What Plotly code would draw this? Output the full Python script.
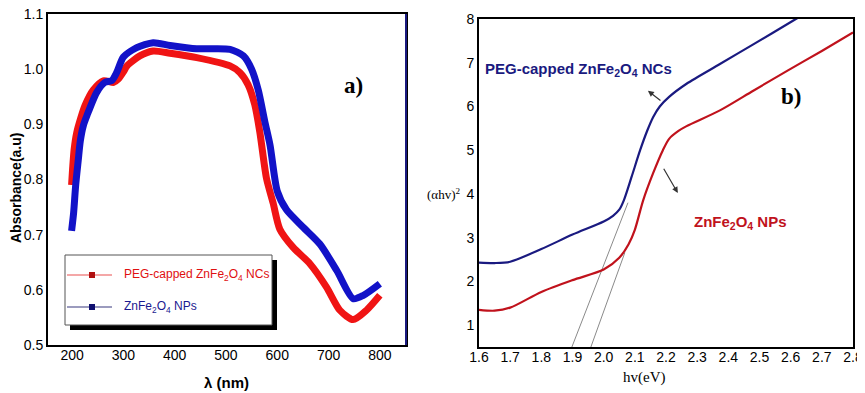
import plotly.graph_objects as go

W, H = 865, 393
OFF = 8  # the page body margin shifts the figure by this many pixels

# ---------- Panel a) data : absorbance vs wavelength ----------
wl_red = [199, 201, 204, 209, 217, 225, 241, 261, 281, 290, 300, 307, 332, 358, 391, 443, 508, 527,
          543, 556, 566, 579, 592, 605, 631, 664, 696, 722, 748, 774, 800]
abs_red = [0.79, 0.82, 0.855, 0.885, 0.912, 0.934, 0.962, 0.979, 0.976, 0.982, 0.995, 1.006, 1.024,
           1.033, 1.029, 1.021, 1.006, 0.994, 0.972, 0.936, 0.886, 0.802, 0.757, 0.710, 0.677,
           0.647, 0.605, 0.563, 0.546, 0.563, 0.590]

wl_blue = [199, 203, 207, 212, 216, 222, 229, 248, 264, 277, 287, 300, 326, 358, 391, 443, 508,
           534, 550, 563, 576, 586, 600, 618, 651, 683, 716, 748, 768, 800]
abs_blue = [0.707, 0.74, 0.79, 0.835, 0.870, 0.898, 0.916, 0.958, 0.976, 0.979, 0.994, 1.022,
            1.039, 1.048, 1.043, 1.037, 1.036, 1.024, 1.0, 0.962, 0.904, 0.862, 0.779, 0.745,
            0.713, 0.683, 0.635, 0.584, 0.590, 0.611]

# ---------- Panel b) data : Tauc plot ----------
ev_blue = [1.6, 1.65, 1.7, 1.8, 1.9, 2.0, 2.03, 2.05, 2.065, 2.09, 2.117, 2.14, 2.159, 2.18, 2.21,
           2.266, 2.373, 2.48, 2.61, 2.64]
tauc_blue = [2.43, 2.42, 2.45, 2.74, 3.07, 3.37, 3.5, 3.64, 3.86, 4.4, 5.0, 5.45, 5.76, 6.0, 6.22,
             6.52, 6.97, 7.42, 7.97, 8.1]

ev_red = [1.6, 1.65, 1.7, 1.8, 1.9, 2.0, 2.05, 2.08, 2.1, 2.127, 2.159, 2.19, 2.21, 2.24, 2.266,
          2.373, 2.48, 2.59, 2.70, 2.80]
tauc_red = [1.35, 1.33, 1.40, 1.76, 2.03, 2.27, 2.54, 2.85, 3.18, 3.86, 4.48, 5.0, 5.26, 5.44,
            5.55, 5.91, 6.36, 6.82, 7.27, 7.69]

tan1_x = [1.898, 2.078]
tan1_y = [0.5, 3.8]
tan2_x = [1.959, 2.068]
tan2_y = [0.5, 2.66]

legend_labels = ["PEG-capped ZnFe<sub>2</sub>O<sub>4</sub> NCs", "ZnFe<sub>2</sub>O<sub>4</sub> NPs"]
a_xticks = [200, 300, 400, 500, 600, 700, 800]
a_yticks = [0.5, 0.6, 0.7, 0.8, 0.9, 1.0, 1.1]
b_xticks = [1.6, 1.7, 1.8, 1.9, 2.0, 2.1, 2.2, 2.3, 2.4, 2.5, 2.6, 2.7, 2.8]
b_yticks = [1, 2, 3, 4, 5, 6, 7, 8]

RED_A = "#f01414"
BLUE_A = "#1212c8"
RED_B = "#c0121c"
BLUE_B = "#1a1a80"

def px(x):
    return (x - OFF) / W

def py(y):
    return 1 - (y - OFF) / H

fig = go.Figure()

fig.add_trace(go.Scatter(x=wl_red, y=abs_red, mode="lines",
                         line=dict(color=RED_A, width=7, shape="spline", smoothing=0.7),
                         xaxis="x", yaxis="y", showlegend=False))
fig.add_trace(go.Scatter(x=wl_blue, y=abs_blue, mode="lines",
                         line=dict(color=BLUE_A, width=7, shape="spline", smoothing=0.7),
                         xaxis="x", yaxis="y", showlegend=False))

fig.add_trace(go.Scatter(x=tan1_x, y=tan1_y, mode="lines", line=dict(color="#8a8a8a", width=1),
                         xaxis="x2", yaxis="y2", showlegend=False))
fig.add_trace(go.Scatter(x=tan2_x, y=tan2_y, mode="lines", line=dict(color="#8a8a8a", width=1),
                         xaxis="x2", yaxis="y2", showlegend=False))
fig.add_trace(go.Scatter(x=ev_blue, y=tauc_blue, mode="lines",
                         line=dict(color=BLUE_B, width=2.2, shape="spline", smoothing=0.8),
                         xaxis="x2", yaxis="y2", showlegend=False))
fig.add_trace(go.Scatter(x=ev_red, y=tauc_red, mode="lines",
                         line=dict(color=RED_B, width=2.2, shape="spline", smoothing=0.8),
                         xaxis="x2", yaxis="y2", showlegend=False))

tickfont = dict(family="Liberation Sans, Arial", size=14, color="black")
common = dict(showline=True, linecolor="black", linewidth=2, mirror=True, showgrid=False,
              zeroline=False, ticks="", ticklen=0, tickfont=tickfont, automargin=False,
              ticklabeloverflow="allow")

fig.update_layout(
    width=W, height=H,
    margin=dict(l=0, r=0, t=0, b=0, autoexpand=False),
    paper_bgcolor="white", plot_bgcolor="white",
    showlegend=False,
    xaxis=dict(domain=[px(48), px(406)], range=[153, 851], tickvals=a_xticks,
               ticklabelstandoff=-4, **common),
    yaxis=dict(domain=[py(345), py(14)], range=[0.5, 1.1], tickvals=a_yticks, tickformat=".1f", **common),
    xaxis2=dict(domain=[px(479), px(853)], range=[1.6, 2.8], tickvals=b_xticks, tickformat=".1f",
                anchor="y2", ticklabelstandoff=-4, **common),
    yaxis2=dict(domain=[py(347), py(19)], range=[0.5, 8.0], tickvals=b_yticks, anchor="x2", **common),
)

shapes = []
# right edge of panel a) in navy
shapes.append(dict(type="line", xref="paper", yref="paper", x0=px(406), x1=px(406), y0=py(345), y1=py(14),
                   line=dict(color="#1a1a80", width=2)))
# legend box with shadow
shapes.append(dict(type="rect", xref="paper", yref="paper", x0=px(70), x1=px(277), y0=py(330), y1=py(260),
                   fillcolor="black", line=dict(width=0)))
shapes.append(dict(type="rect", xref="paper", yref="paper", x0=px(65), x1=px(272), y0=py(325), y1=py(255),
                   fillcolor="white", line=dict(color="#555555", width=1)))
for yy, lc, mc in [(275, "#f08a8a", "#b01010"), (307, "#7a7aa8", "#101070")]:
    shapes.append(dict(type="line", xref="paper", yref="paper", x0=px(67), x1=px(112), y0=py(yy), y1=py(yy),
                       line=dict(color=lc, width=1.3)))
    shapes.append(dict(type="rect", xref="paper", yref="paper", x0=px(89), x1=px(95), y0=py(yy + 3), y1=py(yy - 3),
                       fillcolor=mc, line=dict(width=0)))
fig.update_layout(shapes=shapes)

ann = []
ann.append(dict(xref="paper", yref="paper", x=px(122), y=py(275), xanchor="left", yanchor="middle",
                text=legend_labels[0], showarrow=False,
                font=dict(family="Liberation Sans, Arial", size=12, color="#e01010")))
ann.append(dict(xref="paper", yref="paper", x=px(122), y=py(307), xanchor="left", yanchor="middle",
                text=legend_labels[1], showarrow=False,
                font=dict(family="Liberation Sans, Arial", size=12, color="#1a1a90")))
ann.append(dict(xref="paper", yref="paper", x=px(16), y=py(188), xanchor="center", yanchor="middle",
                text="<b>Absorbance(a.u)</b>", textangle=-90, showarrow=False,
                font=dict(family="Liberation Sans, Arial", size=14, color="black")))
ann.append(dict(xref="paper", yref="paper", x=px(226), y=py(382), xanchor="center", yanchor="middle",
                text="<b>λ (nm)</b>", showarrow=False,
                font=dict(family="Liberation Sans, Arial", size=15, color="black")))
ann.append(dict(xref="paper", yref="paper", x=px(353), y=py(85), xanchor="center", yanchor="middle",
                text="<b>a)</b>", showarrow=False,
                font=dict(family="Liberation Serif, Times New Roman", size=23, color="black")))
ann.append(dict(xref="paper", yref="paper", x=px(791), y=py(96), xanchor="center", yanchor="middle",
                text="<b>b)</b>", showarrow=False,
                font=dict(family="Liberation Serif, Times New Roman", size=23, color="black")))
ann.append(dict(xref="paper", yref="paper", x=px(578), y=py(70), xanchor="center", yanchor="middle",
                text="<b>" + legend_labels[0] + "</b>", showarrow=False,
                font=dict(family="Liberation Sans, Arial", size=15, color=BLUE_B)))
ann.append(dict(xref="paper", yref="paper", x=px(740), y=py(222), xanchor="center", yanchor="middle",
                text="<b>" + legend_labels[1] + "</b>", showarrow=False,
                font=dict(family="Liberation Sans, Arial", size=15, color=RED_B)))
ann.append(dict(xref="paper", yref="paper", x=px(644), y=py(377), xanchor="center", yanchor="middle",
                text="hv(eV)", showarrow=False,
                font=dict(family="Liberation Serif, Times New Roman", size=15, color="black")))
ann.append(dict(xref="paper", yref="paper", x=px(443), y=py(194), xanchor="center", yanchor="middle",
                text="(αhv)<sup>2</sup>", showarrow=False,
                font=dict(family="Liberation Serif, Times New Roman", size=13, color="black")))
# arrows
ann.append(dict(xref="x2", yref="y2", axref="x2", ayref="y2", x=2.142, y=6.36, ax=2.187, ay=6.11,
                text="", showarrow=True, arrowhead=2, arrowsize=1, arrowwidth=1.2, arrowcolor="#333333"))
ann.append(dict(xref="x2", yref="y2", axref="x2", ayref="y2", x=2.238, y=4.02, ax=2.19, ay=4.61,
                text="", showarrow=True, arrowhead=2, arrowsize=1, arrowwidth=1.2, arrowcolor="#333333"))
fig.update_layout(annotations=ann)

fig.write_html("out.html")
